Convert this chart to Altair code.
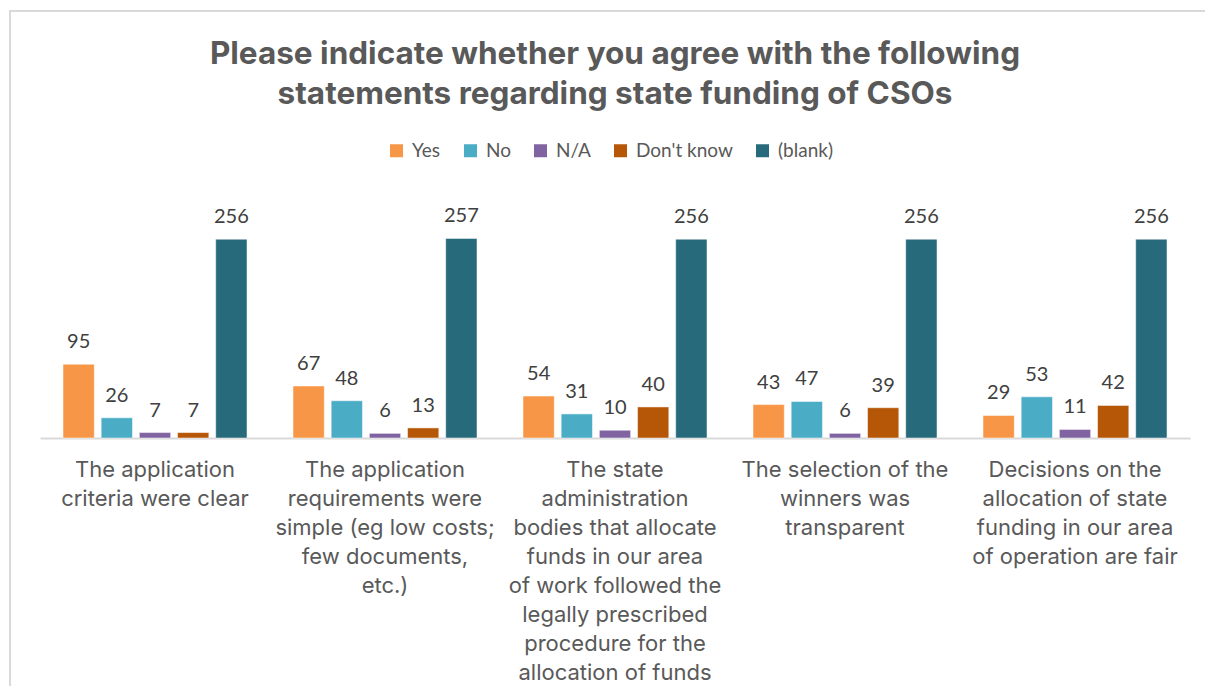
import altair as alt
import pandas as pd

categories = [
    "The application|criteria were clear",
    "The application|requirements were|simple (eg low costs;|few documents,|etc.)",
    "The state|administration|bodies that allocate|funds in our area|of work followed the|legally prescribed|procedure for the|allocation of funds",
    "The selection of the|winners was|transparent",
    "Decisions on the|allocation of state|funding in our area|of operation are fair",
]
series = ["Yes", "No", "N/A", "Don't know", "(blank)"]
yes = [95, 67, 54, 43, 29]
no = [26, 48, 31, 47, 53]
na = [7, 6, 10, 6, 11]
dont_know = [7, 13, 40, 39, 42]
blank = [256, 257, 256, 256, 256]
colors = ["#F79646", "#4BACC6", "#8064A2", "#B65708", "#276A7C"]

rows = []
for s, vals in zip(series, [yes, no, na, dont_know, blank]):
    for c, v in zip(categories, vals):
        rows.append({"category": c, "series": s, "value": v})
df = pd.DataFrame(rows)

x = alt.X("category:N", sort=categories,
          scale=alt.Scale(paddingInner=0.2, paddingOuter=0.1),
          axis=alt.Axis(title=None, labelAngle=0, labelExpr="split(datum.label, '|')",
                        labelFontSize=22, labelFont="Inter", labelColor="#595959",
                        labelLineHeight=29, labelPadding=21, labelLimit=400,
                        ticks=False, domainColor="#D9D9D9", domainWidth=2,
                        labelBaseline="top"))
xo = alt.XOffset("series:N", sort=series, scale=alt.Scale(paddingInner=0.18))
y = alt.Y("value:Q", scale=alt.Scale(domain=[0, 300]), axis=None)

base = alt.Chart(df)
bars = base.mark_bar(stroke="white", strokeWidth=0.5).encode(
    x=x, xOffset=xo, y=y,
    color=alt.Color("series:N", sort=series,
                    scale=alt.Scale(domain=series, range=colors),
                    legend=alt.Legend(title=None, orient="none", legendX=347, legendY=-64,
                                      direction="horizontal", columns=5,
                                      symbolType="square", symbolSize=169,
                                      symbolStrokeWidth=0,
                                      labelFontSize=19, labelFont="Lato",
                                      labelColor="#595959", columnPadding=20,
                                      labelOffset=6)),
)
labels = base.mark_text(baseline="bottom", dy=-12, fontSize=20, font="Lato",
                        color="#404040").encode(
    x=x, xOffset=xo, y=y, text="value:Q")

border_df = pd.DataFrame({"a": [0]})
top_border = alt.Chart(border_df).mark_rule(color="#D9D9D9", strokeWidth=2).encode(
    x=alt.value(-30), x2=alt.value(1200), y=alt.value(-194))
left_border = alt.Chart(border_df).mark_rule(color="#D9D9D9", strokeWidth=2).encode(
    x=alt.value(-30), y=alt.value(-195), y2=alt.value(500))

chart = alt.layer(bars, labels, top_border, left_border).properties(
    width=1150, height=233,
    autosize=alt.AutoSizeParams(type="none"),
    padding={"left": 32, "top": 197, "right": 15, "bottom": 248},
    title=alt.TitleParams(
        text=["Please indicate whether you agree with the following",
              "statements regarding state funding of CSOs"],
        fontSize=31.5, font="Inter", fontWeight="bold", color="#595959",
        anchor="middle", offset=-101, lineHeight=40),
).configure_view(stroke=None)

chart.save("out.html", embed_options={"renderer": "svg", "actions": False})
